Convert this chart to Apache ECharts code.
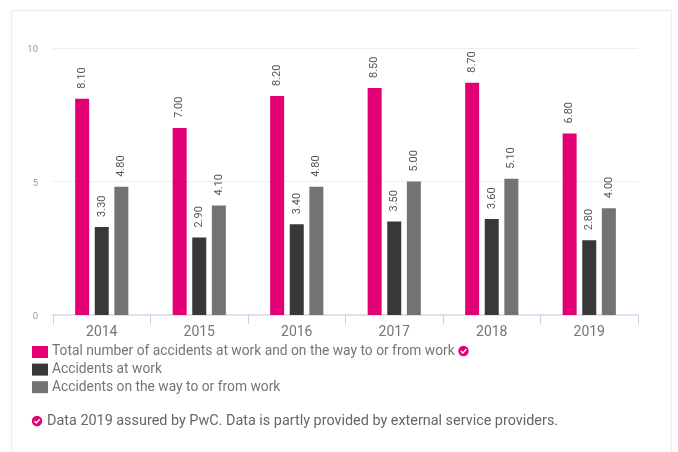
<!DOCTYPE html>
<html><head><meta charset="utf-8">
<style>html,body{margin:0;padding:0;background:#fff}#c{width:678px;height:452px}</style>
<script src="https://cdn.jsdelivr.net/npm/echarts@6/dist/echarts.min.js"></script>
</head><body><div id="c"></div>
<script>
const categories = ['2014','2015','2016','2017','2018','2019'];
const seriesNames = ['Total number of accidents at work and on the way to or from work','Accidents at work','Accidents on the way to or from work'];
const totalAccidents = [8.10,7.00,8.20,8.50,8.70,6.80];
const atWork = [3.30,2.90,3.40,3.50,3.60,2.80];
const onTheWay = [4.80,4.10,4.80,5.00,5.10,4.00];
const colors = ['#e20074','#383838','#737373'];
const font = 'Roboto';
const note = 'Data 2019 assured by PwC. Data is partly provided by external service providers.';
const chart = echarts.init(document.getElementById('c'),null,{renderer:'canvas'});
const mk = (name,data,color)=>({name,type:'bar',data,barWidth:14,barGap:'40%',itemStyle:{color},animation:false,
  label:{show:true,position:'top',rotate:90,distance:10,formatter:p=>p.value.toFixed(2),fontFamily:font,fontSize:11,color:'#555555',align:'left',verticalAlign:'middle'}});
const badge = (x,y)=>[
  {type:'circle',shape:{cx:x,cy:y,r:5.2},style:{fill:'#e20074'}},
  {type:'polyline',shape:{points:[[x-2.6,y],[x-0.6,y+2],[x+2.8,y-1.8]]},style:{stroke:'#fff',lineWidth:1.4,fill:null}}
];
chart.setOption({
  animation:false,
  grid:{left:53,right:40,top:48,bottom:137,containLabel:false},
  xAxis:{type:'category',data:categories,
    axisLine:{lineStyle:{color:'#dfe1f0',width:2}},
    axisTick:{show:true,length:9,lineStyle:{color:'#ccd0e4',width:1}},
    axisLabel:{fontFamily:font,fontSize:14,color:'#757575',margin:10}},
  yAxis:{type:'value',min:0,max:10,interval:5,
    axisLine:{show:false},axisTick:{show:false},
    splitLine:{lineStyle:{color:'#eeeeee',width:1}},
    axisLabel:{fontFamily:font,fontSize:9.5,color:'#999999',margin:15,verticalAlign:'top',lineHeight:4}},
  legend:{show:true,orient:'vertical',left:32,top:345,itemWidth:16,itemHeight:12,itemGap:3.6,padding:0,
    selectedMode:false,icon:'rect',
    textStyle:{fontFamily:font,fontSize:13.8,color:'#757575',padding:[0,0,0,-1]},
    data:seriesNames},
  series:[mk(seriesNames[0],totalAccidents,colors[0]),mk(seriesNames[1],atWork,colors[1]),mk(seriesNames[2],onTheWay,colors[2])],
  graphic:[
    {type:'rect',shape:{x:11.5,y:10.5,width:660,height:460},style:{fill:null,stroke:'#eeeeee',lineWidth:1.5},z:-1},
    ...badge(463.5,351),...badge(37,421),
    {type:'text',x:47,y:421,style:{text:note,fontFamily:font,fontSize:14.4,fill:'#666666',verticalAlign:'middle'}}
  ]
});
</script></body></html>
